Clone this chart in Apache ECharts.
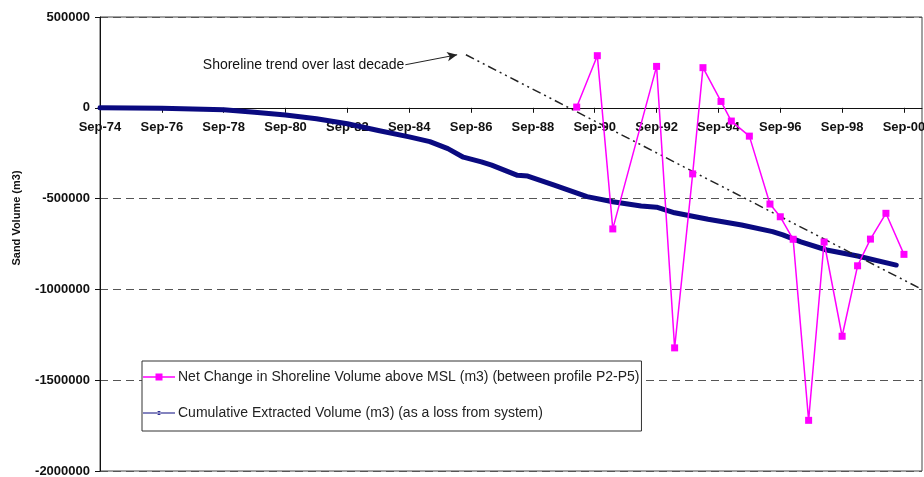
<!DOCTYPE html>
<html>
<head>
<meta charset="utf-8">
<script src="https://cdn.jsdelivr.net/npm/echarts@6/dist/echarts.min.js"></script>
<style>html,body{margin:0;padding:0;background:#fff;}#c{width:924px;height:477px;}</style>
</head>
<body>
<div id="c"></div>
<script>
// x values are months since Sep-1974
const tickLabels = ['Sep-74','Sep-76','Sep-78','Sep-80','Sep-82','Sep-84','Sep-86','Sep-88','Sep-90','Sep-92','Sep-94','Sep-96','Sep-98','Sep-00'];
const netName = 'Net Change in Shoreline Volume above MSL (m3) (between profile P2-P5)';
const cumName = 'Cumulative Extracted Volume (m3) (as a loss from system)';
const netMonths = [185,193,199,216,223,230,234,241,245,252,260,264,269,275,281,288,294,299,305,312];
const netValues = [4000,287000,-667000,228000,-1322000,-364000,221000,35000,-73000,-156000,-530000,-600000,-724000,-1721000,-739000,-1258000,-870000,-723000,-581000,-807000];
const cumMonths = [0,12,24,36,48,60,72,84,96,108,120,128,135,141,148,152,162,166,176,189,199,210,216,223,236,249,261,265,272,282,294,309];
const cumValues = [0,-1000,-3000,-6000,-11000,-25000,-40000,-60000,-88000,-125000,-160000,-186000,-225000,-272000,-298000,-316000,-372000,-376000,-425000,-489000,-517000,-541000,-547000,-578000,-614000,-645000,-682000,-700000,-738000,-783000,-816000,-866000];
const trendMonths = [142,319];
const trendValues = [292000,-1000000];
const arrowMonths = [118.5,138.6];
const arrowValues = [237000,292000];
const annotationText = 'Shoreline trend over last decade';
const yAxisTitle = 'Sand Volume (m3)';
const yMin = -2000000, yMax = 500000;

const FONT = 'Arial, "Liberation Sans", sans-serif';
const zip = (a, b) => a.map((v, i) => [v, b[i]]);

const chart = echarts.init(document.getElementById('c'), null, {renderer: 'canvas'});
chart.setOption({
  animation: false,
  backgroundColor: '#fff',
  textStyle: {fontFamily: FONT},
  grid: {left: 100, right: 2, top: 17, bottom: 6, containLabel: false, outerBoundsMode: 'none',
         show: true, borderColor: '#444', borderWidth: 1, backgroundColor: 'transparent'},
  xAxis: {
    type: 'value', min: 0, max: 319, interval: 24, position: 'bottom', offset: 0, z: 0,
    axisLine: {onZero: false, lineStyle: {color: '#111', width: 1}},
    axisTick: {show: true, length: 5, lineStyle: {color: '#111'}},
    axisLabel: {
      margin: 13, fontSize: 13, fontWeight: 'bold', color: '#111', fontFamily: FONT,
      showMaxLabel: false,
      formatter: v => (v % 24 === 0 ? (tickLabels[v / 24] || '') : '')
    },
    splitLine: {show: false}
  },
  yAxis: {
    type: 'value', min: yMin, max: yMax, interval: 500000,
    axisLine: {show: true, lineStyle: {color: '#111', width: 1}},
    axisTick: {show: true, length: 5, lineStyle: {color: '#111'}},
    axisLabel: {margin: 10, fontSize: 13, fontWeight: 'bold', color: '#111', fontFamily: FONT, formatter: v => String(v)},
    splitLine: {show: true, lineStyle: {color: '#555', width: 1, type: [8, 5]}}
  },
  legend: {
    orient: 'vertical', left: 142, top: 361,
    data: [
      {name: netName, icon: 'path://M0,0M32,14M0,6.25h32v1.5h-32zM12.5,3.5h7v7h-7z'},
      {name: cumName, icon: 'path://M0,0M32,14M0,6.4h32v1.2h-32zM14,7a2,2 0 1,0 4,0a2,2 0 1,0 -4,0z'}
    ],
    itemWidth: 32, itemHeight: 14, itemGap: 22,
    padding: [9, 2, 11, 1],
    backgroundColor: '#fff', borderColor: '#333', borderWidth: 1,
    textStyle: {fontSize: 14, color: '#222', fontFamily: FONT, padding: [0, 0, 0, -2]},
    selectedMode: false
  },
  graphic: [{
    type: 'text', x: 17, y: 218, rotation: Math.PI / 2,
    style: {text: yAxisTitle, font: 'bold 11px ' + FONT, fill: '#111', align: 'center', verticalAlign: 'middle'}
  }],
  series: [
    {
      name: cumName, type: 'line', data: zip(cumMonths, cumValues),
      showSymbol: false, symbol: 'circle', symbolSize: 4,
      lineStyle: {color: '#0a0a80', width: 5, cap: 'round', join: 'round'},
      itemStyle: {color: '#0a0a80'}, z: 2
    },
    {
      name: 'trend', type: 'line', data: zip(trendMonths, trendValues),
      showSymbol: false, symbol: 'none',
      lineStyle: {color: '#222', width: 1.5, type: [9, 4, 2, 4, 2, 4]},
      z: 3,
      markLine: {
        silent: true, symbol: ['none', 'arrow'], symbolSize: [7, 10],
        lineStyle: {color: '#222', width: 1, type: 'solid'},
        label: {show: true, position: 'start', distance: 1, formatter: annotationText, fontSize: 14, color: '#111', fontFamily: FONT},
        data: [[{coord: [arrowMonths[0], arrowValues[0]]}, {coord: [arrowMonths[1], arrowValues[1]]}]]
      }
    },
    {
      name: netName, type: 'line', data: zip(netMonths, netValues),
      symbol: 'rect', symbolSize: 7,
      lineStyle: {color: '#ff00ff', width: 1.5},
      itemStyle: {color: '#ff00ff'}, z: 4
    }
  ]
});
// Move the x axis (line, ticks, labels) up to the y = 0 level, measured through the y scale.
const yZero = chart.convertToPixel({yAxisIndex: 0}, 0);
const yBottom = chart.convertToPixel({yAxisIndex: 0}, yMin);
chart.setOption({xAxis: {offset: yZero - yBottom}});
</script>
</body>
</html>
